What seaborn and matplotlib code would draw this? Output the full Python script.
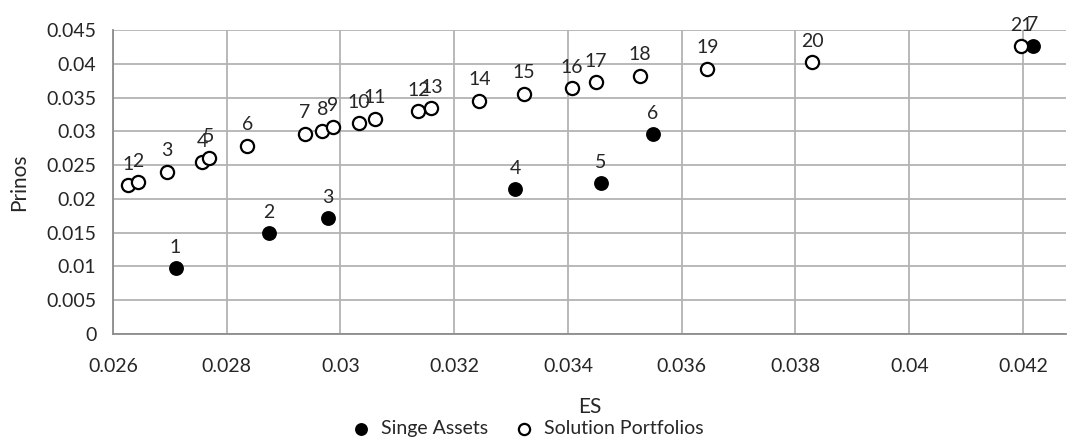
import pandas as pd
import seaborn as sns
import matplotlib.pyplot as plt

# Solution portfolios (open circles)
port_es = [0.02627, 0.02644, 0.02695, 0.02757, 0.02769, 0.02836, 0.02937, 0.02968,
           0.02987, 0.03033, 0.0306, 0.03137, 0.0316, 0.03244, 0.03323, 0.03407,
           0.03449, 0.03527, 0.03645, 0.03829, 0.04197]
port_ret = [0.02205, 0.02245, 0.0240, 0.0254, 0.0261, 0.0279, 0.02965, 0.0301,
            0.0307, 0.0312, 0.0319, 0.0330, 0.0334, 0.03453, 0.0356, 0.0364,
            0.03725, 0.0382, 0.03927, 0.0402, 0.04258]
port_labels = [str(i) for i in range(1, 22)]

# Single assets (filled circles)
asset_es = [0.0271, 0.02874, 0.02978, 0.03307, 0.03458, 0.03549, 0.04217]
asset_ret = [0.00977, 0.01495, 0.01717, 0.02142, 0.02235, 0.0296, 0.04267]
asset_labels = [str(i) for i in range(1, 8)]

x_ticks = [0.026, 0.028, 0.03, 0.032, 0.034, 0.036, 0.038, 0.04, 0.042]
x_tick_labels = ['0.026', '0.028', '0.03', '0.032', '0.034', '0.036', '0.038', '0.04', '0.042']
y_ticks = [0, 0.005, 0.01, 0.015, 0.02, 0.025, 0.03, 0.035, 0.04, 0.045]
y_tick_labels = ['0', '0.005', '0.01', '0.015', '0.02', '0.025', '0.03', '0.035', '0.04', '0.045']

sns.set_style('white')
plt.rcParams['font.family'] = ['Lato', 'DejaVu Sans']

assets = pd.DataFrame({'ES': asset_es, 'Prinos': asset_ret})
ports = pd.DataFrame({'ES': port_es, 'Prinos': port_ret})

fig, ax = plt.subplots(figsize=(10.71, 4.42), dpi=100)
fig.subplots_adjust(left=0.1055, right=0.995, top=0.932, bottom=0.2443)

sns.scatterplot(data=assets, x='ES', y='Prinos', ax=ax, s=90, color='black',
                edgecolor='black', linewidth=1.2, label='Singe Assets', zorder=3)
sns.scatterplot(data=ports, x='ES', y='Prinos', ax=ax, s=90, facecolor='white',
                edgecolor='black', linewidth=1.6, label='Solution Portfolios', zorder=3)

for x, y, t in zip(port_es, port_ret, port_labels):
    ax.annotate(t, (x, y), xytext=(0, 9), textcoords='offset points',
                ha='center', va='bottom', fontsize=14)
for x, y, t in zip(asset_es, asset_ret, asset_labels):
    ax.annotate(t, (x, y), xytext=(0, 9), textcoords='offset points',
                ha='center', va='bottom', fontsize=14)

ax.set_xlim(0.026, 0.04275)
ax.set_ylim(0, 0.045)
ax.set_xticks(x_ticks)
ax.set_xticklabels(x_tick_labels, fontsize=14)
ax.set_yticks(y_ticks)
ax.set_yticklabels(y_tick_labels, fontsize=14)
ax.tick_params(axis='x', length=0, pad=17)
ax.tick_params(axis='y', length=0, pad=12)
ax.grid(True, color='#b3b3b3', linewidth=1.3)
ax.set_axisbelow(True)
for side in ['top', 'right']:
    ax.spines[side].set_visible(False)
for side in ['left', 'bottom']:
    ax.spines[side].set_color('#8c8c8c')
    ax.spines[side].set_linewidth(1.3)

ax.set_xlabel('ES', fontsize=15, labelpad=16)
ax.set_ylabel('Prinos', fontsize=15, labelpad=12)

ax.legend(loc='center', bbox_to_anchor=(0.43, -0.31), ncol=2, frameon=False,
          fontsize=14, handletextpad=0.05, columnspacing=0.8, markerscale=0.85)

fig.savefig('out.png', dpi=100)
